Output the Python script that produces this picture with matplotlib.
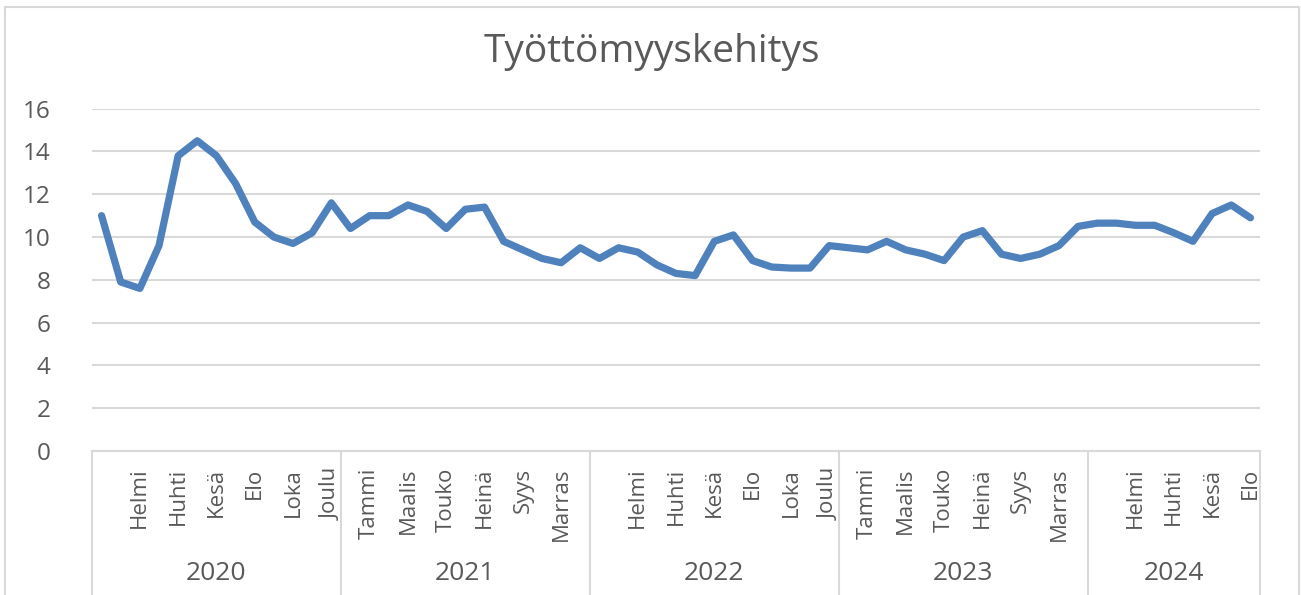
import matplotlib
matplotlib.use("Agg")
import matplotlib.pyplot as plt
from matplotlib.patches import Rectangle

# Työttömyysaste (%), kuukausittain; jokaisen vuoden alussa tyhjä rivi-kategoria
years = ["2020", "2021", "2022", "2023", "2024"]
year_months = [
    ["", "Tammi", "Helmi", "Maalis", "Huhti", "Touko", "Kesä", "Heinä", "Elo", "Syys", "Loka", "Marras", "Joulu"],
    ["", "Tammi", "Helmi", "Maalis", "Huhti", "Touko", "Kesä", "Heinä", "Elo", "Syys", "Loka", "Marras", "Joulu"],
    ["", "Tammi", "Helmi", "Maalis", "Huhti", "Touko", "Kesä", "Heinä", "Elo", "Syys", "Loka", "Marras", "Joulu"],
    ["", "Tammi", "Helmi", "Maalis", "Huhti", "Touko", "Kesä", "Heinä", "Elo", "Syys", "Loka", "Marras", "Joulu"],
    ["", "Tammi", "Helmi", "Maalis", "Huhti", "Touko", "Kesä", "Heinä", "Elo"],
]
vals_2020 = [11.0, 7.9, 7.6, 9.6, 13.8, 14.5, 13.8, 12.5, 10.7, 10.0, 9.7, 10.2, 11.6]
vals_2021 = [10.4, 11.0, 11.0, 11.5, 11.2, 10.4, 11.3, 11.4, 9.8, 9.4, 9.0, 8.8, 9.5]
vals_2022 = [9.0, 9.5, 9.3, 8.7, 8.3, 8.2, 9.8, 10.1, 8.9, 8.6, 8.55, 8.55, 9.6]
vals_2023 = [9.5, 9.4, 9.8, 9.4, 9.2, 8.9, 10.0, 10.3, 9.2, 9.0, 9.2, 9.6, 10.5]
vals_2024 = [10.65, 10.65, 10.55, 10.55, 10.2, 9.8, 11.1, 11.5, 10.9]

values = vals_2020 + vals_2021 + vals_2022 + vals_2023 + vals_2024
months = [m for ym in year_months for m in ym]

LINE_COLOR = "#4f81bd"
GRID_COLOR = "#d9d9d9"
TEXT_COLOR = "#595959"

plt.rcParams["font.family"] = ["Open Sans", "DejaVu Sans"]

fig = plt.figure(figsize=(13.01, 5.95), dpi=100)
ax = fig.add_axes([92 / 1301, 1 - 451 / 595, (1260 - 92) / 1301, (451 - 108.7) / 595])

x = list(range(len(values)))
ax.plot(x, values, color=LINE_COLOR, lw=5.2,
        solid_capstyle="round", solid_joinstyle="round", zorder=3)

ax.set_xlim(-0.5, len(values) - 0.5)
ax.set_ylim(0, 16)
ax.set_yticks(range(0, 17, 2))
ax.grid(axis="y", color=GRID_COLOR, lw=1.5, zorder=0)
ax.set_axisbelow(True)
for s in ["top", "right", "left"]:
    ax.spines[s].set_visible(False)
ax.spines["bottom"].set_color(GRID_COLOR)
ax.spines["bottom"].set_linewidth(1.5)

ax.tick_params(axis="y", length=0, pad=30, labelsize=17.5, labelcolor=TEXT_COLOR)

# Excel näyttää joka toisen kuukauden nimen
shown = [i for i in x if i % 2 == 0]
ax.set_xticks(shown)
ax.set_xticklabels([months[i] for i in shown], rotation=90, fontsize=16,
                   color=TEXT_COLOR)
ax.tick_params(axis="x", length=0, pad=12)

# vuosiryhmät
start = 0
for yr, ym in zip(years, year_months):
    end = start + len(ym)
    ax.plot([start - 0.5, start - 0.5], [0, -0.45], transform=ax.get_xaxis_transform(),
            color=GRID_COLOR, lw=1.5, clip_on=False)
    ax.text((start + end - 1) / 2, -0.357, yr, transform=ax.get_xaxis_transform(),
            ha="center", va="center", fontsize=19, color=TEXT_COLOR)
    start = end
ax.plot([start - 0.5, start - 0.5], [0, -0.45], transform=ax.get_xaxis_transform(),
        color=GRID_COLOR, lw=1.5, clip_on=False)

fig.text(652 / 1301, 1 - 52 / 595, "Työttömyyskehitys", ha="center", va="center",
         fontsize=28, color=TEXT_COLOR)

# kaavion kehys
fig.patches.append(Rectangle((5 / 1301, -0.05), (1299 - 5) / 1301, 1.05 - 7 / 595,
                             transform=fig.transFigure, fill=False,
                             edgecolor=GRID_COLOR, lw=1.5))

fig.savefig("out.png", dpi=100, facecolor="white")
